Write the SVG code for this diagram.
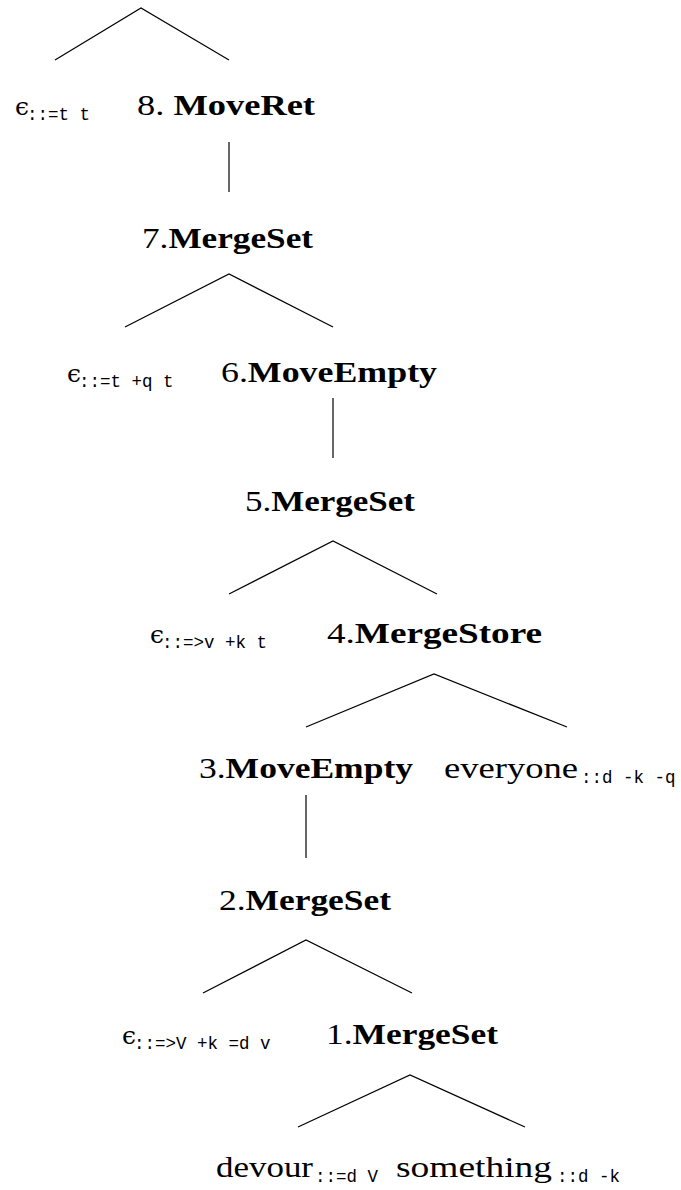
<svg xmlns="http://www.w3.org/2000/svg" width="681" height="1190" viewBox="0 0 681 1190">
<style>
.lbl{font-family:"Liberation Serif","Times New Roman",serif;font-size:30px;fill:#000}
.b{font-weight:bold}
.eps{font-family:"DejaVu Serif",serif;font-size:25px;fill:#000}
.sub{font-family:"Liberation Mono",monospace;font-size:17.5px;fill:#000}
.edge{stroke:#000;stroke-width:1.2;fill:none}
</style>
<rect width="681" height="1190" fill="#fff"/>
<g id="connectors">
<path class="edge" d="M55 60L141 8L229 60"/>
<path class="edge" d="M229 142V192"/>
<path class="edge" d="M125 327L229 274L333 327"/>
<path class="edge" d="M333 398V458"/>
<path class="edge" d="M229 594L333 541L437 594"/>
<path class="edge" d="M306 727L434 674L567 727"/>
<path class="edge" d="M306 795V858"/>
<path class="edge" d="M203 993L306 940L412 993"/>
<path class="edge" d="M298 1127L410 1075L525 1127"/>
</g>
<g id="leaf8"><text class="eps" x="15" y="115">ϵ</text><text class="sub" x="27" y="120">::=t t</text></g>
<g id="n8"><text class="lbl" x="137" y="115" textLength="178" lengthAdjust="spacingAndGlyphs">8. <tspan class="b">MoveRet</tspan></text></g>
<g id="n7"><text class="lbl" x="142" y="248" textLength="171" lengthAdjust="spacingAndGlyphs">7.<tspan class="b">MergeSet</tspan></text></g>
<g id="leaf6"><text class="eps" x="67" y="382">ϵ</text><text class="sub" x="79" y="387">::=t +q t</text></g>
<g id="n6"><text class="lbl" x="221" y="382" textLength="216" lengthAdjust="spacingAndGlyphs">6.<tspan class="b">MoveEmpty</tspan></text></g>
<g id="n5"><text class="lbl" x="245" y="511" textLength="170" lengthAdjust="spacingAndGlyphs">5.<tspan class="b">MergeSet</tspan></text></g>
<g id="leaf4"><text class="eps" x="150" y="643">ϵ</text><text class="sub" x="162" y="648">::=&gt;v +k t</text></g>
<g id="n4"><text class="lbl" x="327" y="643" textLength="215" lengthAdjust="spacingAndGlyphs">4.<tspan class="b">MergeStore</tspan></text></g>
<g id="n3"><text class="lbl" x="199" y="778" textLength="214" lengthAdjust="spacingAndGlyphs">3.<tspan class="b">MoveEmpty</tspan></text></g>
<g id="everyone"><text class="lbl" x="444" y="778" textLength="134" lengthAdjust="spacingAndGlyphs">everyone</text><text class="sub" x="581" y="783">::d -k -q</text></g>
<g id="n2"><text class="lbl" x="219" y="910" textLength="172" lengthAdjust="spacingAndGlyphs">2.<tspan class="b">MergeSet</tspan></text></g>
<g id="leaf2"><text class="eps" x="122" y="1044">ϵ</text><text class="sub" x="134" y="1049">::=&gt;V +k =d v</text></g>
<g id="n1"><text class="lbl" x="326" y="1044" textLength="172" lengthAdjust="spacingAndGlyphs">1.<tspan class="b">MergeSet</tspan></text></g>
<g id="devour"><text class="lbl" x="216" y="1177" textLength="97" lengthAdjust="spacingAndGlyphs">devour</text><text class="sub" x="315" y="1182">::=d V</text></g>
<g id="something"><text class="lbl" x="396" y="1177" textLength="156" lengthAdjust="spacingAndGlyphs">something</text><text class="sub" x="557" y="1182">::d -k</text></g>
</svg>
